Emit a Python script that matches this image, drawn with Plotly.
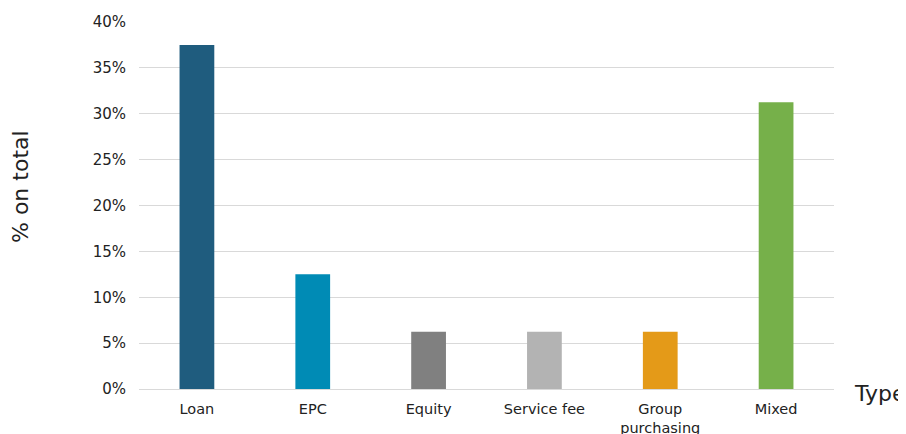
import plotly.graph_objects as go

categories = ["Loan", "EPC", "Equity", "Service fee", "Group<br>purchasing", "Mixed"]
values = [0.375, 0.125, 0.0625, 0.0625, 0.0625, 0.3125]
colors = ["#1F5C7E", "#008BB5", "#808080", "#B3B3B3", "#E49A18", "#76B04A"]
y_ticks = [0, 0.05, 0.10, 0.15, 0.20, 0.25, 0.30, 0.35, 0.40]
y_tick_labels = ["0%", "5%", "10%", "15%", "20%", "25%", "30%", "35%", "40%"]

# page has an 8px body margin; figure sized to fill the rest of the window
OFF = 8
W, H = 906 - OFF, 434 - OFF
L, T = 139 - OFF, 22 - OFF
R = W - (834 - OFF)
B = H - (389 - OFF)
pw, ph = W - L - R, H - T - B


def px_to_paper_x(px):
    return (px - OFF - L) / pw


def px_to_paper_y(py):
    return (H - B - (py - OFF)) / ph


fig = go.Figure(go.Bar(x=categories, y=values, marker=dict(color=colors, line=dict(width=0)),
                       hoverinfo="x+y"))

fig.update_layout(
    width=W, height=H,
    margin=dict(l=L, r=R, t=T, b=B, autoexpand=False),
    paper_bgcolor="white", plot_bgcolor="white",
    bargap=0.7,
    showlegend=False,
    font=dict(family="DejaVu Sans, Verdana, sans-serif", size=15, color="#222222"),
    xaxis=dict(showgrid=False, showline=True, linecolor="#D9D9D9", linewidth=1,
               ticks="", automargin=False, ticklabelstandoff=7,
               tickfont=dict(size=14.5, color="#222222")),
    yaxis=dict(range=[0, 0.40], tickvals=y_ticks, ticktext=y_tick_labels,
               showgrid=True, gridcolor="#D9D9D9", gridwidth=1, zeroline=False,
               showline=False, ticks="", ticklabelstandoff=12, automargin=False,
               tickfont=dict(size=15, color="#222222")),
    annotations=[
        dict(text="Type", xref="paper", yref="paper", x=px_to_paper_x(852), y=px_to_paper_y(393),
             xanchor="left", yanchor="middle", showarrow=False,
             font=dict(size=22, color="#222222")),
        dict(text="% on total", xref="paper", yref="paper", x=px_to_paper_x(20), y=px_to_paper_y(187),
             xanchor="center", yanchor="middle", showarrow=False, textangle=-90,
             font=dict(size=22, color="#222222")),
    ],
)

fig.write_html("out.html")
